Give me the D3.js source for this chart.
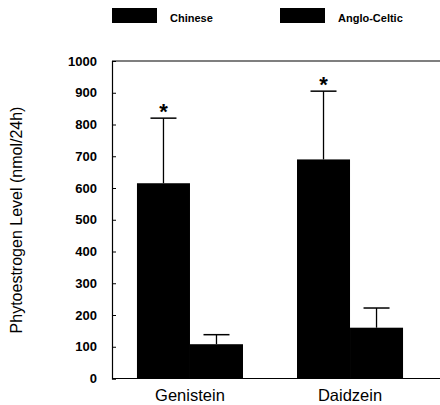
<!DOCTYPE html>
<html>
<head>
<meta charset="utf-8">
<script src="https://cdn.jsdelivr.net/npm/d3@7"></script>
<style>
  body { margin: 0; background: #fff; }
  text { font-family: "Liberation Sans", Arial, sans-serif; }
</style>
</head>
<body>
<svg id="chart" width="440" height="405"></svg>
<script>
let compounds = ["Genistein", "Daidzein"];
let groups = ["Chinese", "Anglo-Celtic"];
let chineseMean = [615, 690];
let chineseErr = [820, 905];
let angloMean = [108, 160];
let angloErr = [138, 222];
let significant = [true, true];
let yTicks = [0, 100, 200, 300, 400, 500, 600, 700, 800, 900, 1000];

let svg = d3.select("#chart");
let plotLeft = 112, plotTop = 61, plotBottom = 378.5, plotRight = 440;

let x = d3.scaleBand().domain(compounds).range([plotLeft, 428]).paddingInner(0.3375).paddingOuter(0.156);
let xg = d3.scaleBand().domain(groups).range([0, x.bandwidth()]);
let y = d3.scaleLinear().domain([0, 1000]).range([plotBottom, plotTop]);

let rows = compounds.map((c, i) => [
  {compound: c, group: "Chinese", mean: chineseMean[i], err: chineseErr[i], star: significant[i]},
  {compound: c, group: "Anglo-Celtic", mean: angloMean[i], err: angloErr[i], star: false}
]).flat();

// frame: top and bottom lines
svg.append("line").attr("x1", plotLeft).attr("x2", plotRight).attr("y1", plotTop).attr("y2", plotTop)
  .attr("stroke", "#000").attr("stroke-width", 1.2);
svg.append("line").attr("x1", plotLeft).attr("x2", plotRight).attr("y1", plotBottom).attr("y2", plotBottom)
  .attr("stroke", "#000").attr("stroke-width", 1.2);

// y axis, ticks inside
let yAxis = svg.append("g").attr("transform", "translate(" + plotLeft + ",0)")
  .call(d3.axisRight(y).tickValues(yTicks).tickSize(4).tickFormat(d3.format("d")));
yAxis.select(".domain").attr("stroke-width", 1.2);
yAxis.selectAll("text")
  .attr("x", -15)
  .attr("text-anchor", "end")
  .style("font-size", "13px")
  .style("font-weight", "bold")
  .attr("fill", "#000");

// error bars (upward only)
let eb = svg.selectAll(".err").data(rows).enter().append("g").attr("class", "err");
eb.append("line")
  .attr("x1", d => x(d.compound) + xg(d.group) + xg.bandwidth() / 2)
  .attr("x2", d => x(d.compound) + xg(d.group) + xg.bandwidth() / 2)
  .attr("y1", d => y(d.mean))
  .attr("y2", d => y(d.err))
  .attr("stroke", "#000").attr("stroke-width", 1.3);
eb.append("line")
  .attr("x1", d => x(d.compound) + xg(d.group) + xg.bandwidth() / 2 - 13)
  .attr("x2", d => x(d.compound) + xg(d.group) + xg.bandwidth() / 2 + 13)
  .attr("y1", d => y(d.err))
  .attr("y2", d => y(d.err))
  .attr("stroke", "#000").attr("stroke-width", 1.5);

// bars
svg.selectAll(".bar").data(rows).enter().append("rect")
  .attr("class", "bar")
  .attr("x", d => x(d.compound) + xg(d.group))
  .attr("width", xg.bandwidth())
  .attr("y", d => y(d.mean))
  .attr("height", d => y(0) - y(d.mean))
  .attr("fill", "#000");

// significance stars
svg.selectAll(".star").data(rows.filter(d => d.star)).enter().append("text")
  .attr("class", "star")
  .attr("x", d => x(d.compound) + xg(d.group) + xg.bandwidth() / 2)
  .attr("y", d => y(d.err) + 1)
  .attr("text-anchor", "middle")
  .style("font-size", "22px")
  .style("font-weight", "bold")
  .text("*");

// x labels
svg.selectAll(".xlab").data(compounds).enter().append("text")
  .attr("class", "xlab")
  .attr("x", d => x(d) + x.bandwidth() / 2)
  .attr("y", 401)
  .attr("text-anchor", "middle")
  .style("font-size", "16.5px")
  .text(d => d);

// y label
svg.append("text")
  .attr("transform", "translate(22,220) rotate(-90)")
  .attr("text-anchor", "middle")
  .style("font-size", "16px")
  .text("Phytoestrogen Level (nmol/24h)");

// legend
let legend = svg.selectAll(".leg").data(groups).enter().append("g")
  .attr("class", "leg")
  .attr("transform", (d, i) => "translate(" + (112 + i * 168) + ",8)");
legend.append("rect").attr("width", 45).attr("height", 15).attr("fill", "#000");
legend.append("text")
  .attr("x", 58).attr("y", 13.5)
  .style("font-size", "11px")
  .style("font-weight", "bold")
  .text(d => d);
</script>
</body>
</html>
